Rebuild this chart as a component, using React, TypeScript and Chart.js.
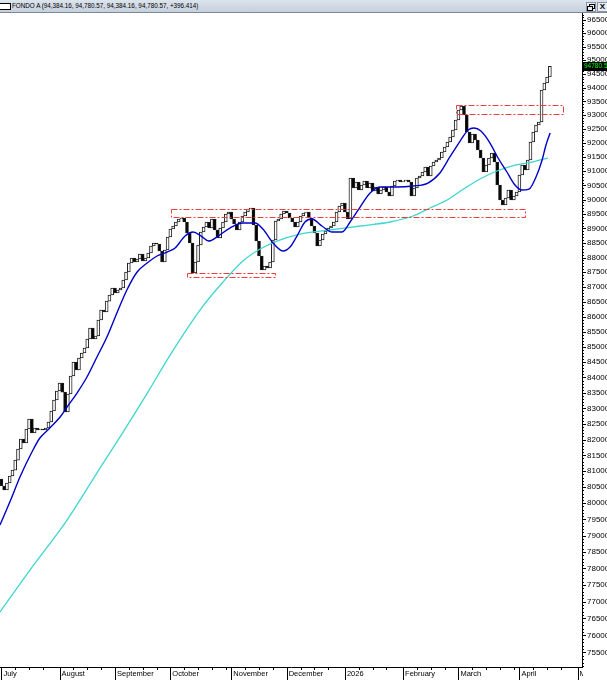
import React, { useEffect, useRef } from 'react';
import { Chart, registerables } from 'chart.js';

Chart.register(...registerables);

// ---------- DATA ----------
const titleText = 'FONDO A (94,384.16, 94,780.57, 94,384.16, 94,780.57, +396.414)';
const monthLabels = ['July', 'August', 'September', 'October', 'November', 'December', '2026', 'February', 'March', 'April', 'May'];
const monthStartIdx = [0, 21, 41, 61, 83, 103, 124, 145, 165, 187, 208];

const firstOpen = 80753;
const closeJul = [80534, 80409, 80628, 80847, 81035, 81350, 81699, 82016, 81889, 82335, 82655, 82207, 82367, 82303, 82335, 82303, 82367, 82559, 82912, 83267, 83558];
const closeAug = [83818, 83525, 82880, 83461, 84046, 84504, 84242, 84635, 84799, 84964, 85261, 85626, 85261, 85361, 85892, 86226, 86159, 86527, 86730, 86966];
const closeSep = [86797, 86898, 86966, 87236, 87507, 87814, 87984, 87848, 87950, 88121, 87882, 87984, 88155, 88394, 88497, 88463, 88223, 87848, 88257, 88704];
const closeOct = [88980, 89083, 89222, 89326, 89360, 89222, 88841, 88497, 87473, 87848, 88429, 88876, 89049, 89222, 89014, 89326, 88945, 88669, 89014, 89222, 89499, 89568];
const closeNov = [89326, 89153, 88945, 89222, 89430, 89568, 89673, 89708, 89118, 88566, 88053, 87575, 87711, 87643, 87848, 88600, 89257, 89326, 89499, 89603];
const closeDec = [89534, 89360, 89222, 89049, 89222, 89430, 89534, 89568, 89360, 89083, 88841, 88394, 88600, 88807, 88910, 89014, 89083, 89222, 89568, 89777, 89882];
const closeJan = [89568, 89326, 90758, 90406, 90618, 90336, 90512, 90653, 90406, 90582, 90301, 90441, 90196, 90336, 90441, 90266, 90126, 90477, 90653, 90688, 90618];
const closeFeb = [90653, 90688, 90618, 90126, 90406, 90758, 90828, 90970, 91146, 90828, 91182, 91323, 91394, 91465, 91679, 91857, 92035, 92213, 92464, 92824];
const closeMar = [93185, 93330, 93005, 92392, 91999, 92321, 92106, 91750, 91465, 90970, 91217, 91465, 91643, 91323, 90512, 89986, 89812, 90056, 90336, 89986, 90126, 90266];
const closeApr = [90864, 91217, 91040, 91394, 92035, 92392, 92644, 92752, 93911, 94166, 94384.16, 94780.57];

// fast moving average (blue): bar index / value
const blueIdx = [-0.5, 3.8, 6.7, 11.4, 13.9, 17.5, 21.2, 23.7, 27.3, 30.9, 34.5, 38.1, 41.7, 45.3, 49.0, 52.6, 56.2, 59.8, 62.7, 66.3, 69.2, 72.1, 74.9, 77.8, 82.5, 87.2, 91.6, 94.4, 98.1, 101.7, 104.2, 106.7, 109.6, 112.1, 115.7, 119.4, 123.0, 125.9, 129.5, 133.1, 136.7, 142.8, 148.6, 154.0, 158.3, 161.9, 165.6, 168.5, 170.6, 173.1, 176.4, 179.3, 182.5, 185.4, 187.9, 190.5, 193.0, 195.2, 196.6, 198.1];
const blueVal = [79324, 80191, 80816, 81667, 82048, 82367, 82719, 83041, 83493, 84014, 84668, 85328, 86126, 86898, 87507, 87814, 88053, 88189, 88326, 88738, 88876, 88738, 88566, 88704, 89014, 89187, 89187, 88980, 88497, 88223, 88360, 88738, 89222, 89326, 89083, 88876, 88876, 89222, 89742, 90231, 90441, 90441, 90477, 90582, 90934, 91501, 92070, 92464, 92536, 92428, 91999, 91465, 90970, 90512, 90336, 90371, 90793, 91394, 91928, 92356];

// slow moving average (cyan)
const cyanIdx = [-0.5, 10.3, 23.7, 35.6, 42.8, 52.9, 60.9, 71.7, 80.0, 87.2, 93.4, 99.5, 107.8, 118.6, 129.5, 140.3, 148.6, 154.7, 160.9, 167.4, 172.8, 178.9, 185.4, 191.6, 197.3];
const cyanVal = [76691, 77951, 79478, 81098, 82080, 83525, 84733, 86226, 87168, 87882, 88291, 88566, 88807, 88945, 89083, 89222, 89430, 89708, 89986, 90406, 90723, 91005, 91217, 91323, 91465];

// support / resistance zones (bar index range, price range)
const zoneStart = [61.2, 67.0, 164.1];
const zoneEnd = [189.0, 98.8, 202.7];
const zoneLow = [89395, 87338, 93040];
const zoneHigh = [89673, 87473, 93377];

const xMin = -0.5;
const xMax = 209.6;
const yMin = 75073;
const yMax = 96759;
const yMinorStep = 100;
const yMajorStep = 500;

const allCloses = [...closeJul, ...closeAug, ...closeSep, ...closeOct, ...closeNov, ...closeDec, ...closeJan, ...closeFeb, ...closeMar, ...closeApr];
const opens = allCloses.map((c, i) => (i === 0 ? firstOpen : allCloses[i - 1]));

const FONT = "'Liberation Sans', Arial, sans-serif";

export default function App() {
  const ref = useRef<HTMLCanvasElement>(null);

  useEffect(() => {
    document.body.style.margin = '0';
    const canvas = ref.current as HTMLCanvasElement;

    const overlay = {
      id: 'overlay',
      afterDatasetsDraw(chart: any) {
        const { ctx, chartArea: a, scales } = chart;
        const xs = scales.x;
        const ys = scales.y;
        ctx.save();
        ctx.beginPath();
        ctx.rect(a.left, a.top, a.right - a.left, a.bottom - a.top);
        ctx.clip();
        ctx.strokeStyle = '#f03c3c';
        ctx.lineWidth = 1;
        ctx.setLineDash([6, 2, 2, 2]);
        for (let k = 0; k < zoneStart.length; k++) {
          const x1 = Math.round(xs.getPixelForValue(zoneStart[k])) + 0.5;
          const x2 = Math.round(xs.getPixelForValue(zoneEnd[k])) + 0.5;
          const y1 = Math.round(ys.getPixelForValue(zoneHigh[k])) + 0.5;
          const y2 = Math.round(ys.getPixelForValue(zoneLow[k])) + 0.5;
          ctx.strokeRect(x1, y1, x2 - x1, y2 - y1);
        }
        ctx.restore();
      },
      afterDraw(chart: any) {
        const { ctx, chartArea: a, scales, width, height } = chart;
        const xs = scales.x;
        const ys = scales.y;
        ctx.save();
        ctx.fillStyle = '#ffffff';
        ctx.fillRect(a.right + 1, a.bottom + 1, width - a.right, height - a.bottom);
        ctx.strokeStyle = '#000000';
        ctx.lineWidth = 1;
        ctx.beginPath();
        monthStartIdx.forEach((idx, k) => {
          const px = Math.round(xs.getPixelForValue(idx)) + 0.5;
          if (px < a.right) {
            ctx.moveTo(px, a.bottom);
            ctx.lineTo(px, height);
          }
          const next = k + 1 < monthStartIdx.length ? monthStartIdx[k + 1] : 212;
          for (let j = idx + 5; j < next - 1; j += 5) {
            const qx = Math.round(xs.getPixelForValue(j)) + 0.5;
            if (qx < a.right) {
              ctx.moveTo(qx, a.bottom);
              ctx.lineTo(qx, a.bottom + 3);
            }
          }
        });
        ys.ticks.forEach((t: any) => {
          const py = Math.round(ys.getPixelForValue(t.value)) + 0.5;
          const len = t.value % yMajorStep === 0 ? 4 : 2;
          ctx.moveTo(a.right, py);
          ctx.lineTo(a.right + len, py);
        });
        ctx.stroke();
        const last = allCloses[allCloses.length - 1];
        const py = Math.round(ys.getPixelForValue(last));
        ctx.fillStyle = '#000000';
        ctx.fillRect(a.right + 1, py - 4, width - a.right, 9);
        ctx.fillStyle = '#00ff00';
        ctx.font = `6.5px ${FONT}`;
        ctx.textBaseline = 'middle';
        ctx.textAlign = 'left';
        ctx.fillText(last.toFixed(2), a.right + 2, py + 0.5);
        ctx.restore();
      },
    };

    const chart = new Chart(canvas, {
      type: 'bar',
      data: {
        datasets: [
          {
            type: 'line',
            data: blueIdx.map((x, i) => ({ x, y: blueVal[i] })),
            borderColor: '#0000c8',
            borderWidth: 1.4,
            pointRadius: 0,
            cubicInterpolationMode: 'monotone',
            order: 1,
          } as any,
          {
            type: 'line',
            data: cyanIdx.map((x, i) => ({ x, y: cyanVal[i] })),
            borderColor: '#3fd6cf',
            borderWidth: 1.3,
            pointRadius: 0,
            cubicInterpolationMode: 'monotone',
            order: 1,
          } as any,
          {
            type: 'bar',
            data: allCloses.map((c, i) => ({ x: i, y: [opens[i], c] })),
            backgroundColor: allCloses.map((c, i) => (c >= opens[i] ? '#ffffff' : '#000000')),
            borderColor: '#1e1e1e',
            borderWidth: 1,
            borderSkipped: false,
            barThickness: 3,
            order: 2,
          } as any,
        ],
      },
      options: {
        responsive: false,
        maintainAspectRatio: false,
        animation: false,
        layout: { padding: 0, autoPadding: false },
        plugins: { legend: { display: false }, tooltip: { enabled: false } },
        scales: {
          x: {
            type: 'linear',
            min: xMin,
            max: xMax,
            offset: false,
            bounds: 'data',
            grid: { display: false, drawTicks: false, offset: false },
            border: { display: true, color: '#000000', width: 1 },
            ticks: {
              autoSkip: false,
              maxRotation: 0,
              align: 'start',
              labelOffset: 2,
              padding: 2,
              color: '#000000',
              font: { family: FONT, size: 7.5 },
              callback: (v: any) => {
                const k = monthStartIdx.indexOf(Number(v));
                return k >= 0 ? monthLabels[k] : '';
              },
            },
            afterBuildTicks: (s: any) => {
              s.ticks = monthStartIdx.map((v) => ({ value: v }));
            },
            afterFit: (s: any) => {
              s.height = 13;
              s.paddingLeft = 0;
              s.paddingRight = 0;
            },
          },
          y: {
            type: 'logarithmic',
            position: 'right',
            min: yMin,
            max: yMax,
            grid: { display: false, drawTicks: true, tickLength: 4 },
            border: { display: true, color: '#000000', width: 1 },
            ticks: {
              autoSkip: false,
              padding: 1,
              color: '#000000',
              font: { family: FONT, size: 8 },
              callback: (v: any) => (Number(v) % yMajorStep === 0 ? String(v) : ''),
            },
            afterBuildTicks: (s: any) => {
              const t: any[] = [];
              for (let v = Math.ceil(yMin / yMinorStep) * yMinorStep; v <= yMax; v += yMinorStep) t.push({ value: v });
              s.ticks = t;
            },
            afterFit: (s: any) => {
              s.width = 43;
              s.paddingTop = 0;
              s.paddingBottom = 0;
            },
          },
        },
      } as any,
      plugins: [overlay],
    });
    return () => chart.destroy();
  }, []);

  return (
    <div style={{ position: 'relative', width: 607, height: 680, overflow: 'hidden', background: '#ffffff' }}>
      <div
        style={{
          position: 'absolute', left: 0, top: 0, width: 607, height: 12,
          background: 'linear-gradient(#dce4ed, #c6d0dc)', borderBottom: '1px solid #7b8898',
        }}
      >
        <div style={{ position: 'absolute', left: -1, top: 3, width: 10, height: 5, border: '1px solid #000', background: '#fff' }} />
        <div
          style={{
            position: 'absolute', left: 12, top: 1, fontSize: '6.3px', lineHeight: '10px',
            fontFamily: FONT, color: '#000', whiteSpace: 'nowrap',
          }}
        >
          {titleText}
        </div>
        <div style={{ position: 'absolute', left: 586, top: 2, width: 8, height: 8, border: '1px solid #8a96a6', background: '#e8edf3' }}>
          <div style={{ position: 'absolute', left: 2, top: 1, width: 4, height: 3, border: '1px solid #000' }} />
          <div style={{ position: 'absolute', left: 0, top: 3, width: 4, height: 3, border: '1px solid #000', background: '#e8edf3' }} />
        </div>
        <div
          style={{
            position: 'absolute', left: 597, top: 2, width: 9, height: 8, border: '1px solid #8a96a6', background: '#e8edf3',
            fontSize: '8px', lineHeight: '8px', fontWeight: 'bold', textAlign: 'center', fontFamily: FONT, color: '#000',
          }}
        >
          X
        </div>
      </div>
      <canvas ref={ref} width={625} height={667} style={{ position: 'absolute', left: 0, top: 13, width: 625, height: 667 }} />
    </div>
  );
}
